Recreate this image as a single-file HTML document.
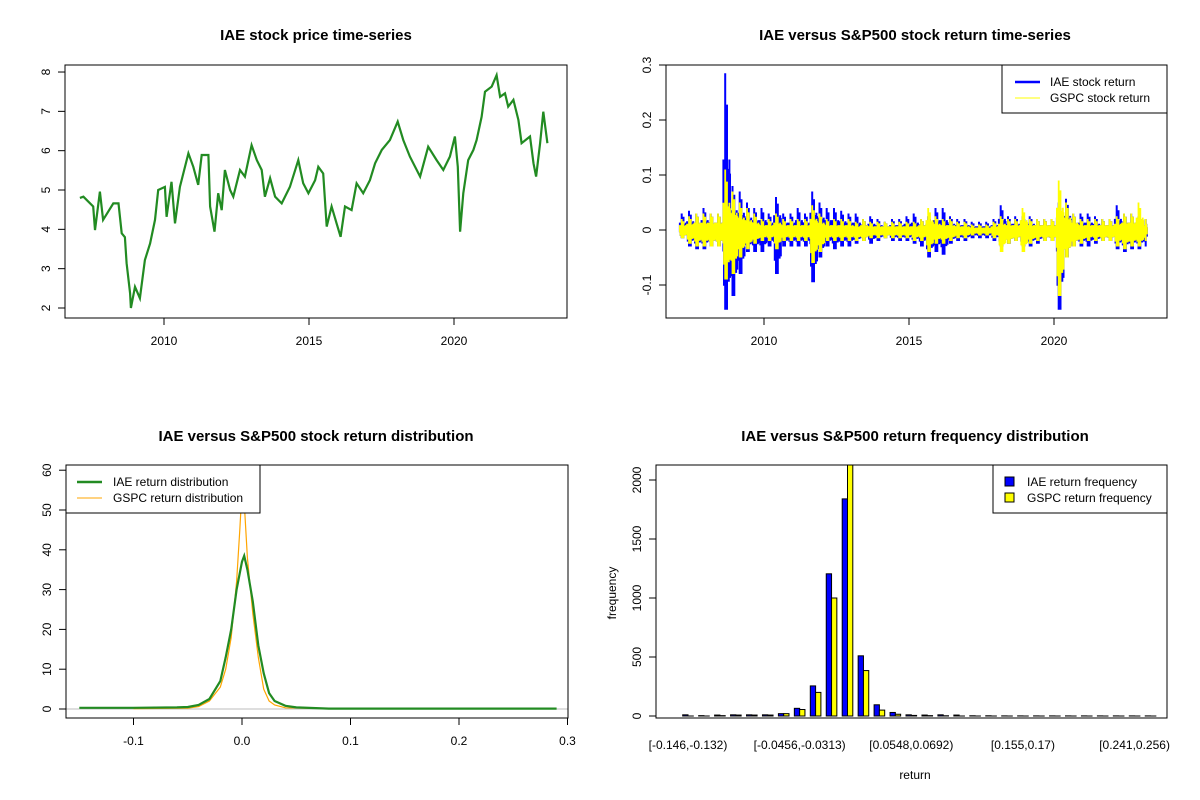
<!DOCTYPE html>
<html><head><meta charset="utf-8"><style>
html,body{margin:0;padding:0;background:#fff}
svg{display:block;font-family:"Liberation Sans",Arial,sans-serif}
</style></head><body>
<svg id="c" width="1200" height="800" viewBox="0 0 1200 800" xmlns="http://www.w3.org/2000/svg"></svg>
<script>
// ---- Panel 1: price series (year, price)
const priceYears=[2007.1,2007.22,2007.56,2007.62,2007.79,2007.9,2008.25,2008.43,2008.54,2008.65,2008.71,2008.83,2008.86,2009.0,2009.17,2009.34,2009.52,2009.69,2009.8,2010.03,2010.09,2010.26,2010.38,2010.55,2010.84,2011.01,2011.18,2011.3,2011.53,2011.59,2011.74,2011.87,2011.99,2012.1,2012.28,2012.39,2012.62,2012.79,2013.02,2013.2,2013.37,2013.48,2013.66,2013.83,2014.06,2014.34,2014.63,2014.8,2014.98,2015.21,2015.32,2015.49,2015.61,2015.78,2015.95,2016.09,2016.24,2016.47,2016.64,2016.87,2017.1,2017.28,2017.51,2017.79,2018.06,2018.25,2018.48,2018.83,2019.11,2019.4,2019.63,2019.86,2020.03,2020.13,2020.21,2020.32,2020.49,2020.67,2020.78,2020.95,2021.07,2021.3,2021.47,2021.59,2021.76,2021.87,2022.05,2022.22,2022.33,2022.62,2022.74,2022.83,2022.97,2023.08,2023.22];
const priceValues=[4.8,4.83,4.58,3.98,4.96,4.24,4.66,4.66,3.9,3.8,3.14,2.37,2.0,2.54,2.25,3.22,3.64,4.24,5.0,5.08,4.32,5.21,4.15,5.08,5.93,5.59,5.13,5.89,5.89,4.58,3.94,4.92,4.49,5.51,5.0,4.83,5.51,5.34,6.14,5.76,5.51,4.83,5.3,4.83,4.66,5.08,5.76,5.17,4.92,5.25,5.59,5.42,4.07,4.58,4.15,3.81,4.58,4.49,5.17,4.92,5.25,5.68,6.02,6.27,6.74,6.27,5.85,5.34,6.1,5.76,5.51,5.85,6.36,5.59,3.94,4.92,5.76,6.02,6.27,6.86,7.5,7.63,7.92,7.37,7.46,7.12,7.29,6.78,6.19,6.36,5.68,5.34,6.19,6.99,6.19];
const priceTicks=[2,3,4,5,6,7,8];
const yearTicks=[2010,2015,2020];
// ---- Panel 2: quarterly return envelopes
const qStart=2007.1;
const iaeHi=[.03,.035,.03,.04, .03,.03,.285,.08, .07,.05,.04,.04, .03,.06,.03,.03, .04,.03,.07,.05, .04,.04,.035,.03, .03,.02,.025,.02, .015,.02,.02,.025, .03,.02,.025,.04, .04,.025,.02,.02, .015,.015,.015,.02, .045,.025,.025,.025, .025,.02,.02,.02, .05,.057,.03,.03, .03,.025,.02,.02, .045,.03,.03,.025, .02];
const iaeLo=[-.015,-.03,-.035,-.035, -.03,-.03,-.145,-.12, -.08,-.04,-.04,-.04, -.03,-.08,-.03,-.03, -.03,-.03,-.095,-.05, -.03,-.035,-.03,-.03, -.025,-.02,-.025,-.02, -.015,-.02,-.02,-.02, -.025,-.03,-.05,-.04, -.045,-.025,-.02,-.02, -.015,-.015,-.015,-.02, -.03,-.025,-.02,-.03, -.03,-.025,-.02,-.02, -.145,-.05,-.03,-.03, -.03,-.025,-.02,-.02, -.035,-.04,-.035,-.035, -.03];
const gspcHi=[.02,.025,.03,.03, .03,.03,.11,.07, .05,.04,.03,.02, .02,.03,.02,.02, .02,.02,.045,.03, .02,.02,.02,.02, .015,.02,.015,.015, .015,.015,.015,.015, .015,.02,.04,.025, .02,.02,.015,.015, .01,.01,.01,.015, .025,.02,.02,.04, .02,.02,.02,.02, .09,.05,.03,.02, .02,.02,.02,.02, .025,.03,.03,.05, .02];
const gspcLo=[-.015,-.025,-.03,-.03, -.03,-.03,-.09,-.08, -.05,-.035,-.025,-.02, -.02,-.035,-.02,-.02, -.02,-.02,-.06,-.04, -.02,-.02,-.02,-.02, -.02,-.02,-.015,-.015, -.015,-.015,-.015,-.015, -.02,-.02,-.04,-.025, -.025,-.02,-.015,-.015, -.01,-.01,-.01,-.015, -.04,-.025,-.02,-.04, -.025,-.02,-.02,-.02, -.12,-.05,-.03,-.025, -.02,-.02,-.02,-.02, -.03,-.035,-.03,-.03, -.02];
const retTicks=[-0.1,0,0.1,0.2,0.3];
// ---- Panel 3: density curves
const iaeDx=[-0.15,-0.1,-0.06,-0.05,-0.04,-0.03,-0.02,-0.015,-0.01,-0.005,0,0.002,0.005,0.01,0.015,0.02,0.025,0.03,0.04,0.05,0.08,0.29];
const iaeDy=[0.3,0.3,0.4,0.5,1,2.5,7,13,20,30,37,38.5,35,27,16,9,4,2,0.8,0.4,0.1,0.1];
const gspcDx=[-0.1,-0.05,-0.04,-0.03,-0.02,-0.015,-0.01,-0.005,-0.002,0,0.002,0.005,0.01,0.015,0.02,0.025,0.03,0.04,0.09];
const gspcDy=[0.1,0.2,0.6,2,5.5,10,18,32,45,55,52,38,24,13,5,2,1,0.3,0.05];
const densXTicks=[-0.1,0,0.1,0.2,0.3];
const densXLabels=["-0.1","0.0","0.1","0.2","0.3"];
const densYTicks=[0,10,20,30,40,50,60];
// ---- Panel 4: histogram
const binLabels=["[-0.146,-0.132)","[-0.0456,-0.0313)","[0.0548,0.0692)","[0.155,0.17)","[0.241,0.256)"];
const binLabelIdx=[0,7,14,21,28];
const iaeCounts=[10,3,8,10,10,10,20,65,255,1205,1840,510,95,30,10,8,10,8,2,2,1,1,1,1,1,1,1,1,1,1];
const gspcCounts=[0,0,3,8,8,8,20,55,200,1000,2400,385,50,15,5,3,2,0,0,0,0,0,0,0,0,0,0,0,0,0];
const freqTicks=[0,500,1000,1500,2000];

const S=document.getElementById('c');const NS='http://www.w3.org/2000/svg';
function el(t,a,p){const e=document.createElementNS(NS,t);for(const k in a)e.setAttribute(k,a[k]);(p||S).appendChild(e);return e;}
function txt(s,x,y,o,p){const e=el('text',Object.assign({x:x,y:y,'font-size':12,'text-anchor':'middle',fill:'#000'},o||{}),p);e.textContent=s;return e;}
function box(x0,y0,x1,y1,p){return el('rect',{x:x0,y:y0,width:x1-x0,height:y1-y0,fill:'none',stroke:'#000','stroke-width':1},p);}
function yTick(g,x0,y,label){el('line',{x1:x0,x2:x0-7,y1:y,y2:y,stroke:'#000'},g);const t=txt(label,x0-15,y,{transform:'rotate(-90 '+(x0-15)+' '+y+')'},g);return t;}
function xTick(g,x,y0,label){el('line',{x1:x,x2:x,y1:y0,y2:y0+7,stroke:'#000'},g);return txt(label,x,y0+27,{},g);}

// ===== Panel 1
(function(){
 const g=el('g',{});
 const X=v=>164+(v-2010)*29, Y=v=>308-(v-2)*39.33;
 const t=txt('IAE stock price time-series',316,40,{'font-size':15,'font-weight':'bold'},g);
 
 priceTicks.forEach(v=>{const k=yTick(g,65,Y(v),String(v));});
 yearTicks.forEach(v=>{const k=xTick(g,X(v),318,String(v));});
 const pts=priceYears.map((y,i)=>X(y).toFixed(1)+','+Y(priceValues[i]).toFixed(1)).join(' ');
 const l=el('polyline',{points:pts,fill:'none',stroke:'#228B22','stroke-width':2.2,'stroke-linejoin':'miter'},g);
 
 box(65,65,567,318,g);
})();

// ===== Panel 2
(function(){
 const g=el('g',{});
 const X=v=>764+(v-2010)*29, Y=v=>230-v*550;
 const t=txt('IAE versus S&P500 stock return time-series',915,40,{'font-size':15,'font-weight':'bold'},g);
 
 retTicks.forEach(v=>{const k=yTick(g,666,Y(v),String(v));});
 yearTicks.forEach(v=>{const k=xTick(g,X(v),318,String(v));});
 // rendering pattern (styling only): relative amplitude of sub-strokes within each quarter
 const pat=[0.45,0.7,0.35,1.0,0.55,0.4,0.8,0.5,0.3,0.65,0.45,0.6];
 function series(hi,lo,color,name,w){
  let d='';
  hi.forEach((h,i)=>{
   const a=qStart+i*0.25;
   pat.forEach((f,j)=>{
    const yr=a+j*0.25/pat.length; if(yr>2023.22) return;
    const x=X(yr).toFixed(1);
    const up=(j%2===0)?h*f:h*f*0.6, dn=(j%2===0)?lo[i]*f*0.6:lo[i]*f;
    const fu=(j===3)?h:up, fd=(j===3||j===6)?lo[i]:dn;
    d+='M'+x+' '+Y(fu).toFixed(1)+'V'+Y(fd).toFixed(1);
   });
  });
  const p=el('path',{d:d,fill:'none',stroke:color,'stroke-width':w},g);
  
 }
 series(iaeHi,iaeLo,'#0000FF','iae-return-series',2);
 series(gspcHi,gspcLo,'#FFFF00','gspc-return-series',1.8);
 box(666,65,1167,318,g);
 const lg=el('g',{},g);
 el('rect',{x:1002,y:65,width:165,height:48,fill:'#fff',stroke:'#000'},lg);
 el('line',{x1:1015,x2:1040,y1:82,y2:82,stroke:'#0000FF','stroke-width':2.5},lg);
 el('line',{x1:1015,x2:1040,y1:98,y2:98,stroke:'#FFFF00','stroke-width':1},lg);
 txt('IAE stock return',1050,86,{'text-anchor':'start'},lg);
 txt('GSPC stock return',1050,102,{'text-anchor':'start'},lg);
})();

// ===== Panel 3
(function(){
 const g=el('g',{});
 const X=v=>242+v*1085, Y=v=>709-v*3.98;
 const t=txt('IAE versus S&P500 stock return distribution',316,441,{'font-size':15,'font-weight':'bold'},g);
 
 densYTicks.forEach(v=>{const k=yTick(g,66,Y(v),String(v));});
 densXTicks.forEach((v,i)=>{const k=xTick(g,X(v),718,densXLabels[i]);});
 el('line',{x1:66,x2:568,y1:Y(0),y2:Y(0),stroke:'#bebebe'},g);
 const cp=el('clipPath',{id:'cp3'},g);el('rect',{x:66,y:465,width:502,height:253},cp);
 const gs=gspcDx.map((x,i)=>X(x).toFixed(1)+','+Y(gspcDy[i]).toFixed(1)).join(' ');
 const l2=el('polyline',{points:gs,fill:'none',stroke:'#FFA500','stroke-width':1.2,'clip-path':'url(#cp3)'},g);
 
 const ia=iaeDx.map((x,i)=>X(x).toFixed(1)+','+Y(iaeDy[i]).toFixed(1)).join(' ');
 const l1=el('polyline',{points:ia,fill:'none',stroke:'#228B22','stroke-width':2.2},g);
 
 box(66,465,568,718,g);
 const lg=el('g',{},g);
 el('rect',{x:66,y:465,width:194,height:48,fill:'#fff',stroke:'#000'},lg);
 el('line',{x1:77,x2:102,y1:482,y2:482,stroke:'#228B22','stroke-width':2.5},lg);
 el('line',{x1:77,x2:102,y1:498,y2:498,stroke:'#FFA500','stroke-width':1},lg);
 txt('IAE return distribution',113,486,{'text-anchor':'start'},lg);
 txt('GSPC return distribution',113,502,{'text-anchor':'start'},lg);
})();

// ===== Panel 4
(function(){
 const g=el('g',{});
 const C=i=>688+i*15.95, Y=v=>716-v*0.118, bw=5.3;
 const t=txt('IAE versus S&P500 return frequency distribution',915,441,{'font-size':15,'font-weight':'bold'},g);
 
 freqTicks.forEach(v=>{const k=yTick(g,656,Y(v),String(v));});
 binLabelIdx.forEach((b,i)=>{const k=txt(binLabels[i],C(b),749,{},g);});
 const cp=el('clipPath',{id:'cp4'},g);el('rect',{x:656,y:465,width:511,height:253},cp);
 const bg=el('g',{'clip-path':'url(#cp4)'},g);
 iaeCounts.forEach((v,i)=>{
  const r=el('rect',{x:C(i)-bw,y:Y(v),width:bw,height:Math.max(0.01,Y(0)-Y(v)),fill:'#0000FF',stroke:'#000','stroke-width':1},bg);
  
  const v2=gspcCounts[i];
  const r2=el('rect',{x:C(i),y:Y(v2),width:bw,height:Math.max(0.01,Y(0)-Y(v2)),fill:'#FFFF00',stroke:'#000','stroke-width':1},bg);
  
 });
 box(656,465,1167,718,g);
 const yl=txt('frequency',616,593,{transform:'rotate(-90 616 593)'},g);
 const xl=txt('return',915,779,{},g);
 const lg=el('g',{},g);
 el('rect',{x:993,y:465,width:174,height:48,fill:'#fff',stroke:'#000'},lg);
 el('rect',{x:1005,y:477,width:9,height:9,fill:'#0000FF',stroke:'#000'},lg);
 el('rect',{x:1005,y:493,width:9,height:9,fill:'#FFFF00',stroke:'#000'},lg);
 txt('IAE return frequency',1027,486,{'text-anchor':'start'},lg);
 txt('GSPC return frequency',1027,502,{'text-anchor':'start'},lg);
})();
</script>
</body></html>
